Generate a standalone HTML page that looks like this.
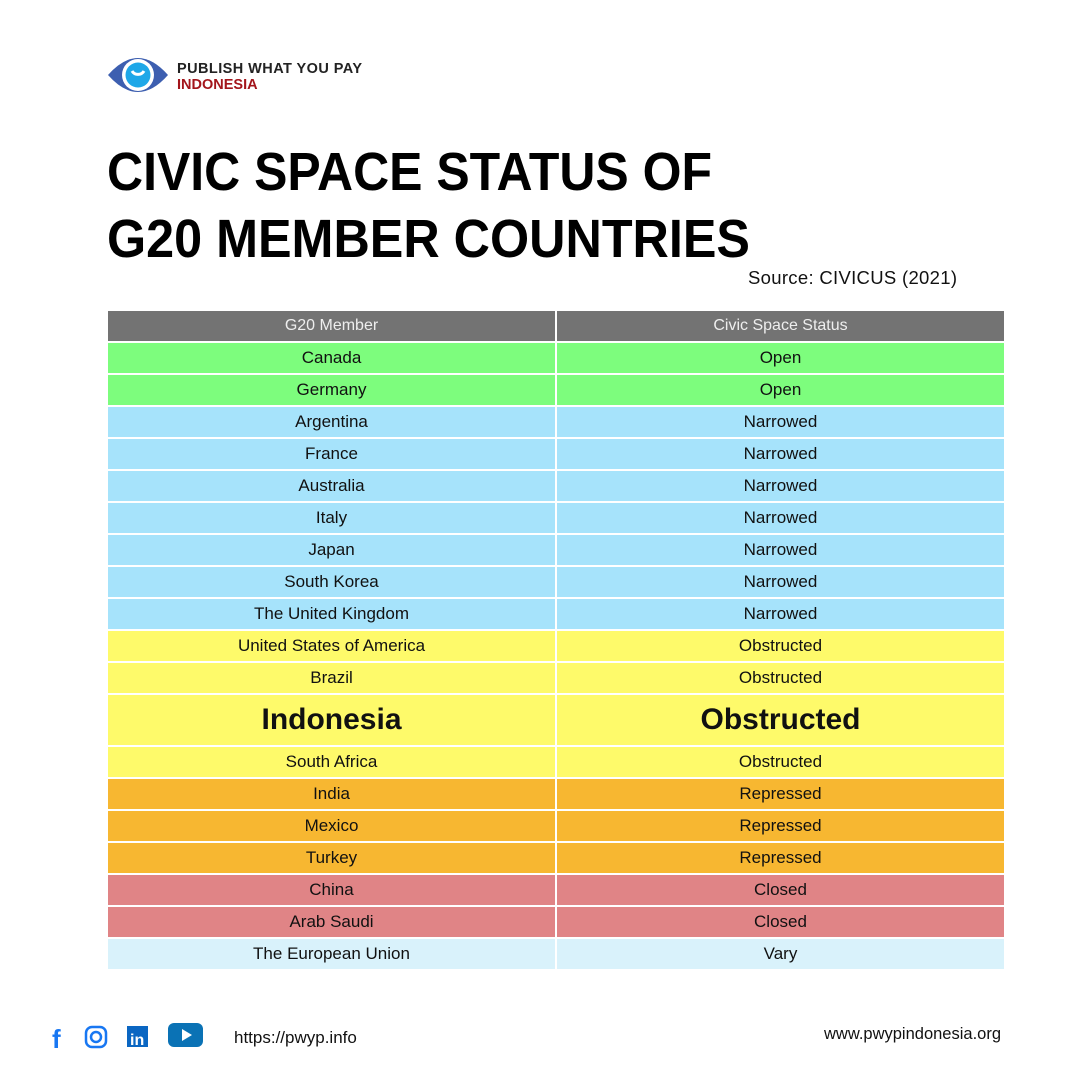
<!DOCTYPE html>
<html><head><meta charset="utf-8"><style>
body{margin:0;width:1080px;height:1080px;background:#fff;font-family:"Liberation Sans",sans-serif;position:relative;overflow:hidden}
.t{position:absolute;left:108px;width:896px}
.r{display:flex;height:30px;margin-bottom:2px}
.r div{flex:0 0 447px;display:flex;align-items:center;justify-content:center;font-size:17px;color:#111}
.r div+div{margin-left:2px;flex:0 0 447px}
.h div{background:#737373;color:#eee;font-size:16px}
.g div{background:#7dfd7d}.b div{background:#a6e3fb}.y div{background:#fefa6a}
.o div{background:#f7b731}.c div{background:#e08486}.e div{background:#d9f2fb}
.big{height:50px}.big div{font-size:30px;font-weight:bold}
</style></head><body>
<svg style="position:absolute;left:0;top:0" width="1080" height="300">
<path d="M108 75 Q138 41 168 75 Q138 109 108 75Z" fill="#3d5fb0"/>
<circle cx="138" cy="75" r="16" fill="#fff"/>
<circle cx="138" cy="75" r="12.5" fill="#1ea7e8"/>
<path d="M132 71 a7 7 0 0 0 12 0" stroke="#fff" stroke-width="3" fill="none"/>
<text x="177" y="73" font-size="14.5" font-weight="bold" fill="#222" textLength="185">PUBLISH WHAT YOU PAY</text>
<text x="177" y="89" font-size="14.5" font-weight="bold" fill="#a3151b">INDONESIA</text>
<text x="107" y="190" font-size="54" font-weight="900" fill="#000" textLength="605" lengthAdjust="spacingAndGlyphs">CIVIC SPACE STATUS OF</text>
<text x="107" y="257" font-size="54" font-weight="900" fill="#000" textLength="643" lengthAdjust="spacingAndGlyphs">G20 MEMBER COUNTRIES</text>
<text x="748" y="284" font-size="18.5" fill="#111" textLength="209">Source: CIVICUS (2021)</text>
</svg>
<div class="t" style="top:311px">
<div class="r h"><div>G20 Member</div><div>Civic Space Status</div></div>
<div class="r g"><div>Canada</div><div>Open</div></div>
<div class="r g"><div>Germany</div><div>Open</div></div>
<div class="r b"><div>Argentina</div><div>Narrowed</div></div>
<div class="r b"><div>France</div><div>Narrowed</div></div>
<div class="r b"><div>Australia</div><div>Narrowed</div></div>
<div class="r b"><div>Italy</div><div>Narrowed</div></div>
<div class="r b"><div>Japan</div><div>Narrowed</div></div>
<div class="r b"><div>South Korea</div><div>Narrowed</div></div>
<div class="r b"><div>The United Kingdom</div><div>Narrowed</div></div>
<div class="r y"><div>United States of America</div><div>Obstructed</div></div>
<div class="r y"><div>Brazil</div><div>Obstructed</div></div>
<div class="r y big"><div>Indonesia</div><div>Obstructed</div></div>
<div class="r y"><div>South Africa</div><div>Obstructed</div></div>
<div class="r o"><div>India</div><div>Repressed</div></div>
<div class="r o"><div>Mexico</div><div>Repressed</div></div>
<div class="r o"><div>Turkey</div><div>Repressed</div></div>
<div class="r c"><div>China</div><div>Closed</div></div>
<div class="r c"><div>Arab Saudi</div><div>Closed</div></div>
<div class="r e"><div>The European Union</div><div>Vary</div></div>
</div>
<svg style="position:absolute;left:0;top:1010px" width="1080" height="60">
<text x="52" y="38" font-size="26" font-weight="bold" fill="#1877f2">f</text>
<rect x="86" y="17" width="20" height="20" rx="6" fill="none" stroke="#1877f2" stroke-width="2.5"/>
<circle cx="96" cy="27" r="5" fill="none" stroke="#1877f2" stroke-width="2.5"/>
<rect x="127" y="16" width="21" height="21" fill="#0a66c2"/>
<text x="130" y="35" font-size="16" font-weight="bold" fill="#fff">in</text>
<rect x="168" y="13" width="35" height="24" rx="6" fill="#0a72b5"/>
<path d="M182 19 L192 25 L182 31Z" fill="#fff"/>
<text x="234" y="33" font-size="17" fill="#111">https://pwyp.info</text>
<text x="1001" y="29" font-size="16.5" fill="#111" text-anchor="end">www.pwypindonesia.org</text>
</svg>
</body></html>
